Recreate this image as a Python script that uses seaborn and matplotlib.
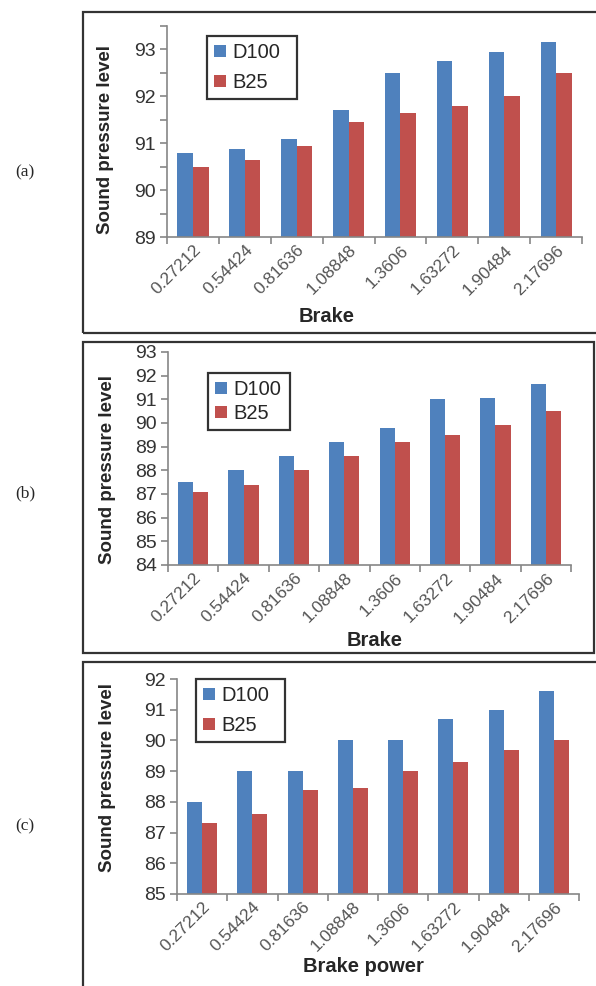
import numpy as np
import pandas as pd
import seaborn as sns
import matplotlib.pyplot as plt
from matplotlib.patches import Rectangle

# Brake power categories (shared by the three panels)
brake = ["0.27212", "0.54424", "0.81636", "1.08848", "1.3606", "1.63272", "1.90484", "2.17696"]

# (a)
d100_a = [90.8, 90.88, 91.1, 91.7, 92.5, 92.75, 92.95, 93.15]
b25_a = [90.5, 90.64, 90.94, 91.45, 91.64, 91.8, 92.0, 92.5]
# (b)
d100_b = [87.5, 88.0, 88.6, 89.2, 89.8, 91.0, 91.05, 91.65]
b25_b = [87.1, 87.38, 88.0, 88.6, 89.2, 89.5, 89.9, 90.5]
# (c)
d100_c = [88.0, 89.0, 89.0, 90.0, 90.0, 90.7, 91.0, 91.62]
b25_c = [87.3, 87.62, 88.4, 88.45, 89.0, 89.3, 89.7, 90.0]

W, H = 596, 986
BLUE = "#4F81BD"
RED = "#C0504D"
AXC = "#868686"

sns.set_style("white")
plt.rcParams["font.family"] = ["Liberation Sans", "DejaVu Sans"]

fig = plt.figure(figsize=(W / 100, H / 100), dpi=100)


def to_fig(x, y):
    return x / W, 1 - y / H


def panel(d100, b25, ax_px, ylim, minor, box_px, leg_px, spacing, xlabel, xlab_px, ylab_px, tag_y, tag):
    l, t, r, b = ax_px
    ax = fig.add_axes([l / W, 1 - b / H, (r - l) / W, (b - t) / H])

    df = pd.DataFrame({"brake": brake * 2,
                       "spl": d100 + b25,
                       "fuel": ["D100"] * len(brake) + ["B25"] * len(brake)})
    sns.barplot(data=df, x="brake", y="spl", hue="fuel", palette=[BLUE, RED],
                width=0.6, gap=0, saturation=1, linewidth=0, ax=ax, legend=True)

    ax.set_ylim(*ylim)
    ax.set_xlim(-0.5, len(brake) - 0.5)
    ax.set_yticks(np.arange(np.ceil(ylim[0]), np.floor(ylim[1]) + 0.01, 1))
    ax.set_yticklabels([f"{v:.0f}" for v in ax.get_yticks()], fontsize=14, color="#333333")
    if minor:
        ax.set_yticks(np.arange(ylim[0], ylim[1] + 0.01, 0.5), minor=True)

    # category axis: ticks on boundaries, labels centred
    ax.set_xticks(np.arange(-0.5, len(brake), 1))
    ax.set_xticklabels([])
    ax.set_xticks(np.arange(len(brake)), minor=True)
    ax.set_xticklabels(brake, minor=True, rotation=45, ha="right", rotation_mode="anchor",
                       fontsize=12.5, color="#555555")
    ax.tick_params(axis="x", which="minor", length=0, pad=4)
    ax.tick_params(axis="x", which="major", length=5, width=1.2, color=AXC, direction="out")
    ax.tick_params(axis="y", which="both", length=5, width=1.2, color=AXC, direction="out", pad=3)
    ax.tick_params(left=True, bottom=True, which="both")

    for s in ["top", "right"]:
        ax.spines[s].set_visible(False)
    for s in ["left", "bottom"]:
        ax.spines[s].set_color(AXC)
        ax.spines[s].set_linewidth(1.2)

    ax.set_xlabel(xlabel, fontsize=14.5, fontweight="bold")
    ax.xaxis.set_label_coords((xlab_px[0] - l) / (r - l), (b - xlab_px[1]) / (b - t))
    ax.xaxis.label.set_va("center")
    ax.set_ylabel("Sound pressure level", fontsize=13.5, fontweight="bold")
    ax.yaxis.set_label_coords((ylab_px[0] - l) / (r - l), (b - ylab_px[1]) / (b - t))
    ax.yaxis.label.set_va("center")

    # legend box
    lx, ly = to_fig(leg_px[0], leg_px[1])
    lw = (leg_px[2] - leg_px[0]) / W
    lh = (leg_px[3] - leg_px[1]) / H
    leg = ax.legend(loc="upper left", bbox_to_anchor=(lx, ly - lh, lw, lh), bbox_transform=fig.transFigure,
                    mode="expand", fontsize=14.5, frameon=True, fancybox=False, handlelength=0.6,
                    handleheight=0.6, handletextpad=0.3, borderpad=0.35, labelspacing=spacing,
                    borderaxespad=0)
    leg.get_frame().set_edgecolor("black")
    leg.get_frame().set_linewidth(1.6)

    # outer panel frame
    bx0, by1 = to_fig(box_px[0], box_px[1])
    bx1, by0 = to_fig(box_px[2], box_px[3])
    fig.patches.append(Rectangle((bx0, by0), bx1 - bx0, by1 - by0, transform=fig.transFigure,
                                 fill=False, edgecolor="#333333", linewidth=1.6))

    tx, ty = to_fig(25, tag_y)
    fig.text(tx, ty, tag, ha="center", va="center", fontsize=12.5, family=["Liberation Serif", "DejaVu Serif"])
    return ax


panel(d100_a, b25_a, (167, 26, 582, 237), (89, 93.5), True, (83, 12, 600, 333), (207, 36, 297, 95), 0.55,
      "Brake", (327, 317), (105, 140), 172, "(a)")
panel(d100_b, b25_b, (168, 352, 571, 565), (84, 93), False, (83, 342, 594, 653), (208, 373, 290, 425), 0.25,
      "Brake", (375, 641), (108, 469), 493, "(b)")
panel(d100_c, b25_c, (177, 679, 579, 894), (85, 92), False, (83, 662, 600, 990), (196, 679, 285, 738), 0.55,
      "Brake power", (363, 967), (108, 778), 826, "(c)")

fig.savefig("out.png", dpi=100)
